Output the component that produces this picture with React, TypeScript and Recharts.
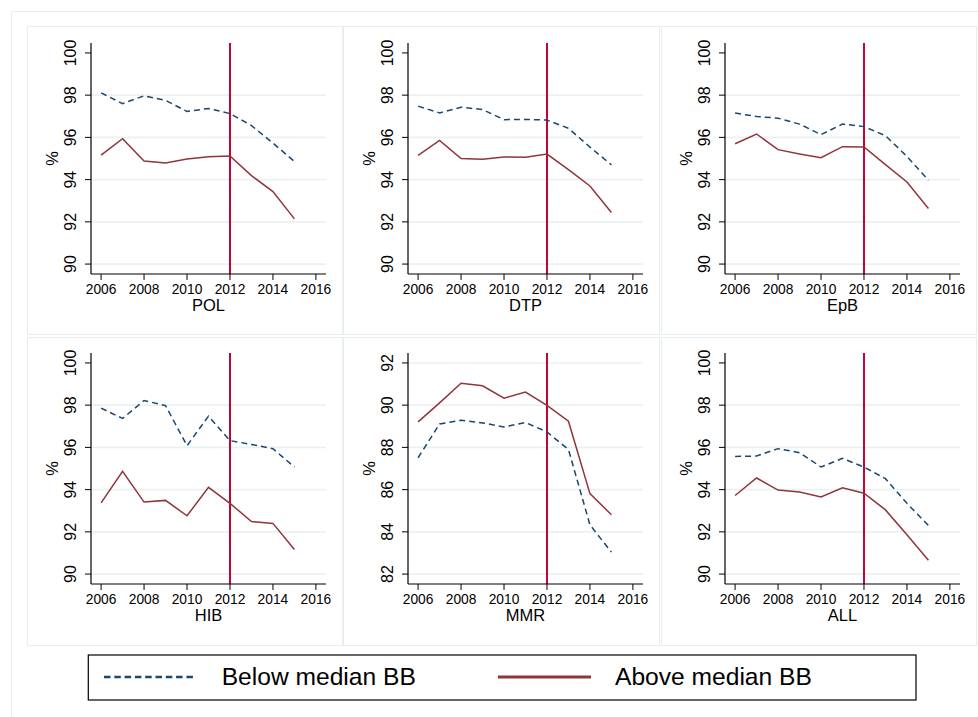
import React from 'react';
import { CartesianGrid, Line, LineChart, ReferenceLine, XAxis, YAxis } from 'recharts';

// Coverage (%) by vaccine, 2006-2015, below / above median BB
const YEARS = [2006, 2007, 2008, 2009, 2010, 2011, 2012, 2013, 2014, 2015];
const YEAR_TICKS = [2006, 2008, 2010, 2012, 2014, 2016];
const PCT_TICKS = [90, 92, 94, 96, 98, 100];
const PCT_GRID = [90, 92, 94, 96, 98];
const MMR_TICKS = [82, 84, 86, 88, 90, 92];
const CUTOFF_YEAR = 2012;

const POL_BELOW = [98.11, 97.6, 97.97, 97.75, 97.23, 97.37, 97.13, 96.56, 95.73, 94.86];
const POL_ABOVE = [95.16, 95.94, 94.88, 94.79, 94.98, 95.08, 95.12, 94.19, 93.43, 92.14];
const DTP_BELOW = [97.48, 97.16, 97.43, 97.32, 96.84, 96.85, 96.82, 96.43, 95.54, 94.7];
const DTP_ABOVE = [95.15, 95.86, 95.0, 94.96, 95.07, 95.06, 95.21, 94.47, 93.7, 92.44];
const EPB_BELOW = [97.15, 96.99, 96.91, 96.63, 96.13, 96.63, 96.51, 96.08, 95.1, 93.97];
const EPB_ABOVE = [95.7, 96.16, 95.42, 95.21, 95.04, 95.56, 95.55, 94.71, 93.89, 92.63];
const HIB_BELOW = [97.86, 97.37, 98.22, 97.98, 96.08, 97.48, 96.32, 96.14, 95.94, 95.07];
const HIB_ABOVE = [93.37, 94.87, 93.41, 93.49, 92.76, 94.11, 93.35, 92.49, 92.4, 91.16];
const MMR_BELOW = [87.51, 89.11, 89.29, 89.16, 88.97, 89.18, 88.73, 87.9, 84.33, 83.04];
const MMR_ABOVE = [89.21, 90.11, 91.04, 90.92, 90.33, 90.62, 89.99, 89.24, 85.81, 84.81];
const ALL_BELOW = [95.57, 95.59, 95.94, 95.75, 95.07, 95.48, 95.07, 94.52, 93.35, 92.3];
const ALL_ABOVE = [93.72, 94.55, 93.98, 93.89, 93.65, 94.09, 93.83, 93.04, 91.86, 90.65];

const FONT = '"Liberation Sans", Arial, Helvetica, sans-serif';
const NAVY = '#1a476f';
const MAROON = '#90353b';
const CRANBERRY = '#c10534';
const GRID = '#eaf1f3';
const FRAME = '#e6eef1';

const PANEL_W = 316.3;
const PANEL_H = 309;
const AXIS_W = 65;
const PLOT_TOP = 17;
const PLOT_W = 235;
const PLOT_H = 231;

type PanelProps = {
  title: string;
  below: number[];
  above: number[];
  ticks: number[];
  grid: number[];
  left: number;
  top: number;
};

const YTick = (props: any) => {
  const { y, payload } = props;
  const x = AXIS_W - 15;
  return (
    <text
      x={x}
      y={y}
      transform={`rotate(-90 ${x} ${y})`}
      textAnchor="middle"
      fontSize={16}
      fontFamily={FONT}
      fill="#000"
    >
      {payload.value}
    </text>
  );
};

const XTitle = (props: any) => {
  const { viewBox, text } = props;
  if (!viewBox) return null;
  return (
    <text
      x={viewBox.x + viewBox.width / 2}
      y={viewBox.y + 37}
      textAnchor="middle"
      fontSize={16.5}
      fontFamily={FONT}
      fill="#000"
    >
      {text}
    </text>
  );
};

const YTitle = (props: any) => {
  const { viewBox } = props;
  if (!viewBox) return null;
  const x = AXIS_W - 33.4;
  const y = viewBox.y + viewBox.height / 2;
  return (
    <text
      x={x}
      y={y}
      transform={`rotate(-90 ${x} ${y})`}
      textAnchor="middle"
      fontSize={16.5}
      fontFamily={FONT}
      fill="#000"
    >
      %
    </text>
  );
};

function Panel({ title, below, above, ticks, grid, left, top }: PanelProps) {
  const data = YEARS.map((year, i) => ({ year, below: below[i], above: above[i] }));
  const lo = ticks[0] - 0.47;
  const hi = ticks[ticks.length - 1] + 0.47;

  return (
    <div
      style={{
        position: 'absolute',
        left,
        top,
        width: PANEL_W,
        height: PANEL_H,
        boxSizing: 'border-box',
        border: `1.5px solid ${FRAME}`,
        background: '#fff',
      }}
    >
      <div style={{ position: 'absolute', left: -1.5, top: -1.5 }}>
        <LineChart
          width={PANEL_W}
          height={PANEL_H}
          data={data}
          margin={{ top: PLOT_TOP, right: PANEL_W - AXIS_W - PLOT_W, bottom: 0, left: 0 }}
        >
          <CartesianGrid
            vertical={false}
            horizontalValues={grid}
            stroke={GRID}
            strokeWidth={1.6}
          />
          <XAxis
            dataKey="year"
            type="number"
            domain={[2005.53, 2016.47]}
            allowDataOverflow
            ticks={YEAR_TICKS}
            interval={0}
            height={PANEL_H - PLOT_TOP - PLOT_H}
            tickSize={6}
            tickMargin={4.5}
            tick={{ fill: '#000', fontSize: 13.8, fontFamily: FONT }}
            tickLine={{ stroke: '#000', strokeWidth: 1 }}
            axisLine={{ stroke: '#000', strokeWidth: 1.2 }}
            label={<XTitle text={title} />}
          />
          <YAxis
            type="number"
            domain={[lo, hi]}
            allowDataOverflow
            ticks={ticks}
            interval={0}
            width={AXIS_W}
            tickSize={6}
            tick={<YTick />}
            tickLine={{ stroke: '#000', strokeWidth: 1 }}
            axisLine={{ stroke: '#000', strokeWidth: 1.2 }}
            label={<YTitle />}
          />
          <ReferenceLine x={CUTOFF_YEAR} stroke={CRANBERRY} strokeWidth={2} />
          <Line
            type="linear"
            dataKey="below"
            stroke={NAVY}
            strokeWidth={1.5}
            strokeDasharray="6 4"
            dot={false}
            isAnimationActive={false}
          />
          <Line
            type="linear"
            dataKey="above"
            stroke={MAROON}
            strokeWidth={1.5}
            dot={false}
            isAnimationActive={false}
          />
        </LineChart>
      </div>
    </div>
  );
}

export default function App() {
  const cols = [26.7, 343.3, 660.7];
  const rows = [26, 336.5];

  return (
    <div
      style={{
        position: 'absolute',
        left: 0,
        top: 0,
        width: 978,
        height: 717,
        overflow: 'hidden',
        background: '#fff',
        fontFamily: FONT,
      }}
    >
      <div
        style={{
          position: 'absolute',
          left: 11,
          top: 11,
          width: 1000,
          height: 1000,
          border: `1.5px solid ${FRAME}`,
        }}
      />
      <Panel title="POL" below={POL_BELOW} above={POL_ABOVE} ticks={PCT_TICKS} grid={PCT_GRID} left={cols[0]} top={rows[0]} />
      <Panel title="DTP" below={DTP_BELOW} above={DTP_ABOVE} ticks={PCT_TICKS} grid={PCT_GRID} left={cols[1]} top={rows[0]} />
      <Panel title="EpB" below={EPB_BELOW} above={EPB_ABOVE} ticks={PCT_TICKS} grid={PCT_GRID} left={cols[2]} top={rows[0]} />
      <Panel title="HIB" below={HIB_BELOW} above={HIB_ABOVE} ticks={PCT_TICKS} grid={PCT_GRID} left={cols[0]} top={rows[1]} />
      <Panel title="MMR" below={MMR_BELOW} above={MMR_ABOVE} ticks={MMR_TICKS} grid={MMR_TICKS} left={cols[1]} top={rows[1]} />
      <Panel title="ALL" below={ALL_BELOW} above={ALL_ABOVE} ticks={PCT_TICKS} grid={PCT_GRID} left={cols[2]} top={rows[1]} />

      {/* shared legend */}
      <svg
        style={{ position: 'absolute', left: 0, top: 0 }}
        width={978}
        height={717}
        pointerEvents="none"
      >
        <rect x={88.3} y={655} width={827.7} height={45} fill="#fff" stroke="#000" strokeWidth={1.2} />
        <line x1={104} y1={677} x2={196} y2={677} stroke={NAVY} strokeWidth={2.7} strokeDasharray="6.5 3.8" />
        <text x={221.7} y={685} fontSize={24.6} fontFamily={FONT} fill="#000">
          Below median BB
        </text>
        <line x1={498} y1={677} x2={591} y2={677} stroke={MAROON} strokeWidth={3} />
        <text x={615} y={685} fontSize={24.6} fontFamily={FONT} fill="#000">
          Above median BB
        </text>
      </svg>
    </div>
  );
}
